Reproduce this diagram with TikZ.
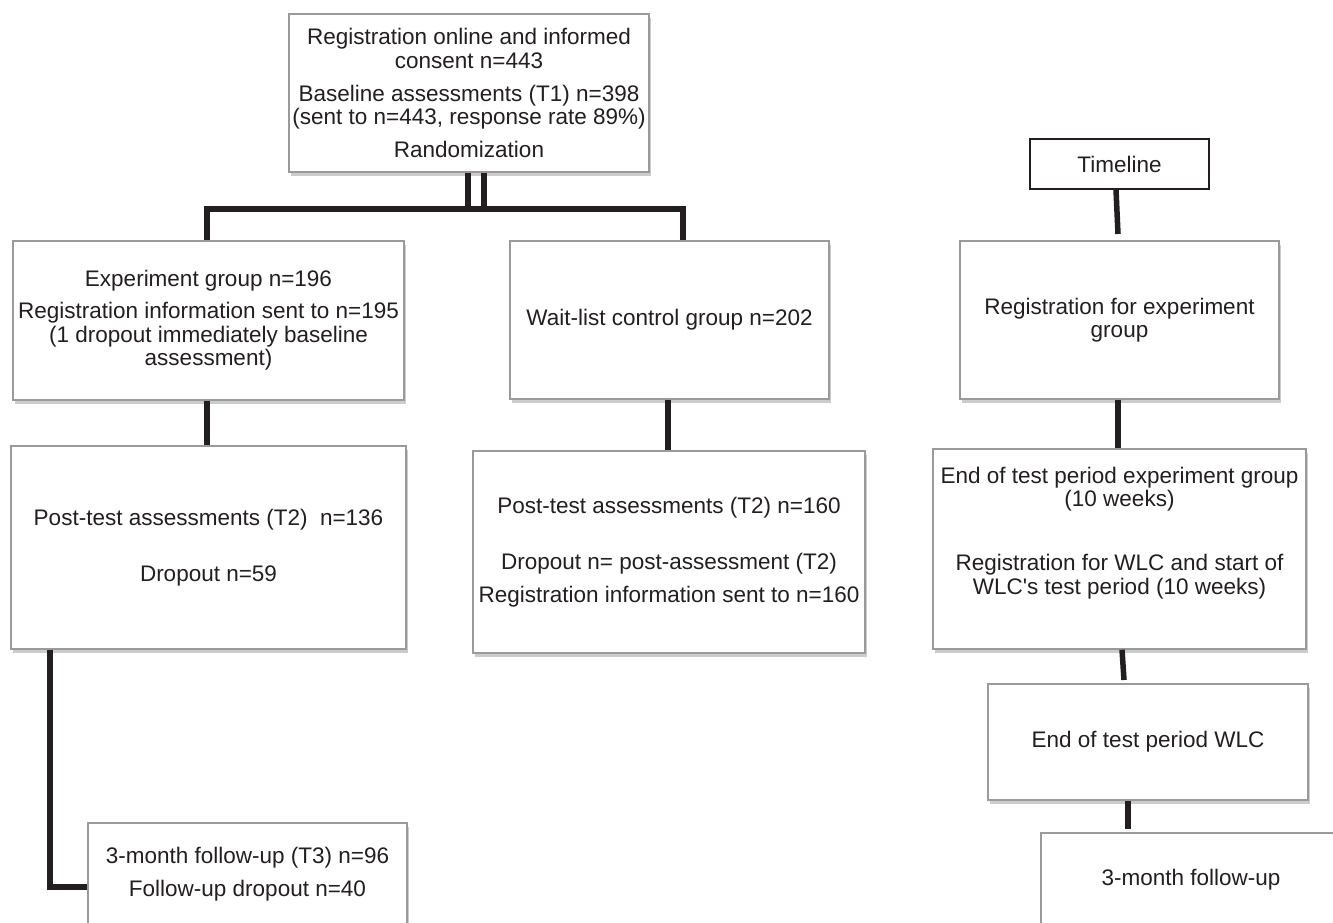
\documentclass[tikz,border=0pt]{standalone}
\usepackage{fontspec}
\newfontfamily\plainsans{Liberation Sans}
\usetikzlibrary{shadows}
\definecolor{ink}{HTML}{231F20}
\definecolor{boxline}{HTML}{9A9A9A}
\begin{document}
\begin{tikzpicture}[x=1pt,y=-1pt,
  font=\plainsans\fontsize{22.5}{23.5}\selectfont,
  box/.style={draw=boxline, line width=1.4pt, fill=white, align=center, inner sep=0pt, text=ink,
    drop shadow={shadow xshift=2pt, shadow yshift=-3.5pt, opacity=0.4, fill=black!50}},
  tlbox/.style={draw=ink, line width=1.6pt, fill=white, align=center, inner sep=0pt, text=ink},
  txt/.style={align=center, inner sep=0pt, text=ink},
  conn/.style={draw=ink, line width=5.5pt},
]
\clip (0,0) rectangle (1333,922);
\fill[white] (0,0) rectangle (1333,922);

% left flow
\node[box, minimum width=360pt, minimum height=158pt] (top) at (469,93)
  {Registration online and informed\\consent n=443\\[9.5pt]
   Baseline assessments (T1) n=398\\(sent to n=443, response rate 89\%)\\[9.5pt]
   Randomization};
\node[box, minimum width=391pt, minimum height=159pt] (exp) at (208.5,320.5)
  {Experiment group n=196\\[8.5pt]
   Registration information sent to n=195\\(1 dropout immediately baseline\\assessment)};
\node[box, minimum width=319pt, minimum height=158pt] (wlc) at (669.5,320)
  {Wait-list control group n=202};
\node[box, minimum width=395pt, minimum height=203pt] (exppost) at (208.5,547.5)
  {Post-test assessments (T2)\ \ n=136\\[32.5pt]Dropout n=59};
\node[box, minimum width=392pt, minimum height=202pt] (wlcpost) at (669,552)
  {Post-test assessments (T2) n=160\\[32.5pt]
   Dropout n= post-assessment (T2)\\[9.5pt]
   Registration information sent to n=160};
\node[box, minimum width=319pt, minimum height=102pt] (fu) at (247.5,874)
  {3-month follow-up (T3) n=96\\[9.5pt]Follow-up dropout n=40};

% timeline
\node[tlbox, minimum width=179pt, minimum height=50pt] (timeline) at (1119.5,164) {Timeline};
\node[box, minimum width=319pt, minimum height=158pt] (reg) at (1119.5,320)
  {Registration for experiment\\group};
\node[box, minimum width=373pt, minimum height=200pt] (endexp) at (1119.5,549) {};
\node[txt] (endexptxt) at (1119.5,533)
  {End of test period experiment group\\(10 weeks)\\[40.5pt]
   Registration for WLC and start of\\WLC's test period (10 weeks)};
\node[box, minimum width=320pt, minimum height=116pt] (endwlc) at (1148,742)
  {End of test period WLC};
\node[box, minimum width=300pt, minimum height=93pt] (three) at (1191,879.5)
  {3-month follow-up};

% connectors
\coordinate (barL) at (207,209);
\coordinate (barR) at (683,209);
\coordinate (dA) at (468,209);
\coordinate (dB) at (484,209);
\draw[conn] (top.south -| dA) -- (dA);
\draw[conn] (top.south -| dB) -- (dB);
\draw[conn] (exp.north -| barL) -- (barL) -- (barR) -- (wlc.north -| barR);
\draw[conn] (exp.south -| barL) -- (exppost.north -| barL);
\coordinate (wlcdrop) at (668,0);
\draw[conn] (wlc.south -| wlcdrop) -- (wlcpost.north -| wlcdrop);
\coordinate (elbow) at (50,887);
\draw[conn] (exppost.south -| elbow) -- (elbow) -- (elbow -| fu.west);

\coordinate (tlend) at (1118,234);
\draw[conn] ([xshift=-3.5pt]timeline.south) -- (tlend);
\coordinate (regdrop) at (1118,0);
\draw[conn] (reg.south -| regdrop) -- (endexp.north -| regdrop);
\coordinate (ewend) at (1124,680);
\draw[conn] ([xshift=2.5pt]endexp.south) -- (ewend);
\coordinate (thend) at (1128,829);
\draw[conn] (endwlc.south -| thend) -- (thend);
\end{tikzpicture}
\end{document}
